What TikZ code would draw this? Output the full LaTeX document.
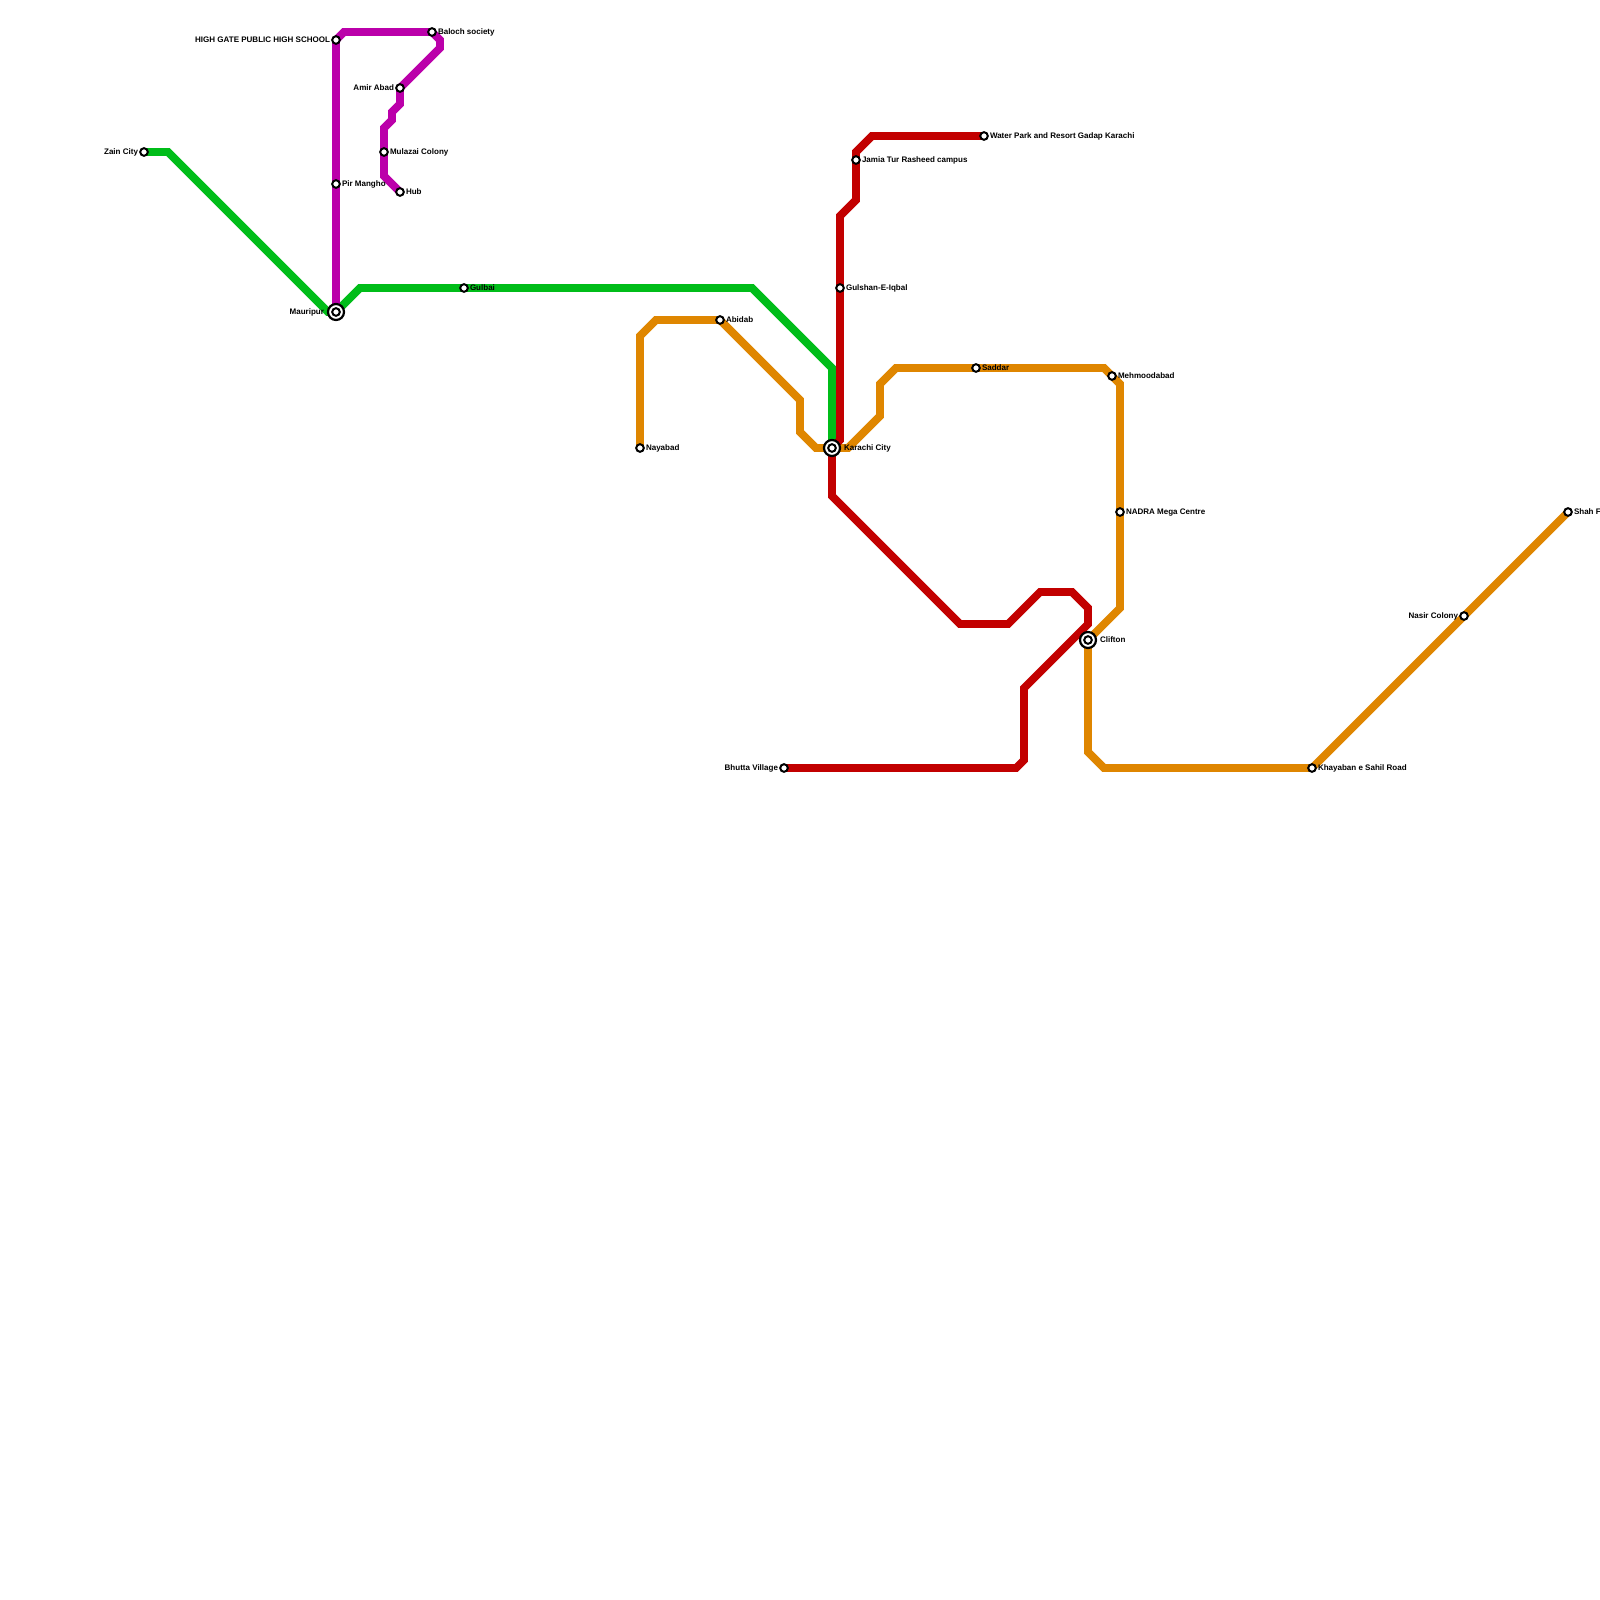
\documentclass[tikz,border=0pt]{standalone}
\usepackage{fontspec}
\setmainfont{Liberation Sans}
\definecolor{lgreen}{RGB}{0,189,25}
\definecolor{lpurple}{RGB}{187,0,170}
\definecolor{lred}{RGB}{194,0,0}
\definecolor{lorange}{RGB}{223,134,0}
\pgfdeclarelayer{lines}
\pgfsetlayers{lines,main}
\tikzset{
 x=0.01cm,y=-0.01cm,
 metro/.style={line width=0.078cm,line join=miter,miter limit=4},
 stn/.style={circle,draw=black,fill=white,line width=0.02cm,minimum size=0.076cm,inner sep=0,outer sep=0},
 hub/.style={circle,draw=black,fill=white,line width=0.022cm,minimum size=0.16cm,inner sep=0,outer sep=0},
 lbl/.style={inner sep=0,outer sep=0,font=\fontsize{2.28pt}{3pt}\selectfont\bfseries,text=black},
 lblR/.style={lbl,anchor=west,xshift=0.06cm,yshift=-0.004cm},
 lblL/.style={lbl,anchor=east,xshift=-0.06cm,yshift=-0.004cm},
}
\newcommand\stR[4]{\node[stn] (#1) at (#2,#3) {}; \node[lblR] (#1-t) at (#2,#3) {\strut #4};}
\newcommand\stL[4]{\node[stn] (#1) at (#2,#3) {}; \node[lblL] (#1-t) at (#2,#3) {\strut #4};}
\newcommand\hubR[4]{\node[hub] (#1) at (#2,#3) {}; \node[stn] (#1-in) at (#2,#3) {}; \node[lbl,anchor=west,xshift=0.12cm,yshift=-0.004cm] (#1-t) at (#2,#3) {\strut #4};}
\newcommand\hubL[4]{\node[hub] (#1) at (#2,#3) {}; \node[stn] (#1-in) at (#2,#3) {}; \node[lbl,anchor=east,xshift=-0.12cm,yshift=-0.004cm] (#1-t) at (#2,#3) {\strut #4};}
\begin{document}
\begin{tikzpicture}
\useasboundingbox (0,0) rectangle (1600,1600);
% stations
\stL{zain}{144}{152}{Zain City}
\hubL{mauripur}{336}{312}{Mauripur}
\stR{gulbai}{464}{288}{Gulbai}
\stL{highgate}{336}{40}{HIGH GATE PUBLIC HIGH SCHOOL}
\stR{pir}{336}{184}{Pir Mangho}
\stR{baloch}{432}{32}{Baloch society}
\stL{amir}{400}{88}{Amir Abad}
\stR{mulazai}{384}{152}{Mulazai Colony}
\stR{hubst}{400}{192}{Hub}
\stR{water}{984}{136}{Water Park and Resort Gadap Karachi}
\stR{jamia}{856}{160}{Jamia Tur Rasheed campus}
\stR{gulshan}{840}{288}{Gulshan-E-Iqbal}
\hubR{karachi}{832}{448}{Karachi City}
\hubR{clifton}{1088}{640}{Clifton}
\stL{bhutta}{784}{768}{Bhutta Village}
\stR{nayabad}{640}{448}{Nayabad}
\stR{abidab}{720}{320}{Abidab}
\stR{saddar}{976}{368}{Saddar}
\stR{mehmood}{1112}{376}{Mehmoodabad}
\stR{nadra}{1120}{512}{NADRA Mega Centre}
\stR{khayaban}{1312}{768}{Khayaban e Sahil Road}
\stL{nasir}{1464}{616}{Nasir Colony}
\stR{shah}{1568}{512}{Shah F}
% bends
\foreach \n/\a/\b in {g1/168/152,g2/328/312,g3/360/288,g4/752/288,g5/832/368,
 p1/344/32,p2/440/40,p3/440/48,p4/400/104,p5/392/112,p6/392/120,p7/384/128,p8/384/176,
 r1/872/136,r2/856/152,r3/856/200,r4/840/216,r5/840/440,r6/832/496,r7/960/624,r8/1008/624,r9/1040/592,r10/1072/592,r11/1088/608,r12/1088/624,r13/1024/688,r14/1024/760,r15/1016/768,
 o1/640/336,o2/656/320,o3/800/400,o4/800/432,o5/816/448,o6/848/448,o7/880/416,o8/880/384,o9/896/368,o10/1104/368,o11/1120/384,o12/1120/608,o13/1088/752,o14/1104/768}
 {\coordinate (\n) at (\a,\b);}
\begin{pgfonlayer}{lines}
\fill[white] (0,0) rectangle (1600,1600);
\draw[metro,lorange] (nayabad.center) -- (o1) -- (o2) -- (abidab.center) -- (o3) -- (o4) -- (o5) -- (o6) -- (o7) -- (o8) -- (o9) -- (o10) -- (o11) -- (o12) -- (clifton.center) -- (o13) -- (o14) -- (khayaban.center) -- (shah.center);
\draw[metro,lgreen] (zain.center) -- (g1) -- (g2) -- (mauripur.center) -- (g3) -- (g4) -- (g5) -- (karachi.center);
\draw[metro,lred] (water.center) -- (r1) -- (r2) -- (r3) -- (r4) -- (r5) -- (karachi.center) -- (r6) -- (r7) -- (r8) -- (r9) -- (r10) -- (r11) -- (r12) -- (r13) -- (r14) -- (r15) -- (bhutta.center);
\draw[metro,lpurple] (mauripur.center) -- (highgate.center) -- (p1) -- (baloch.center) -- (p2) -- (p3) -- (amir.center) -- (p4) -- (p5) -- (p6) -- (p7) -- (p8) -- (hubst.center);
\end{pgfonlayer}
\end{tikzpicture}
\end{document}
